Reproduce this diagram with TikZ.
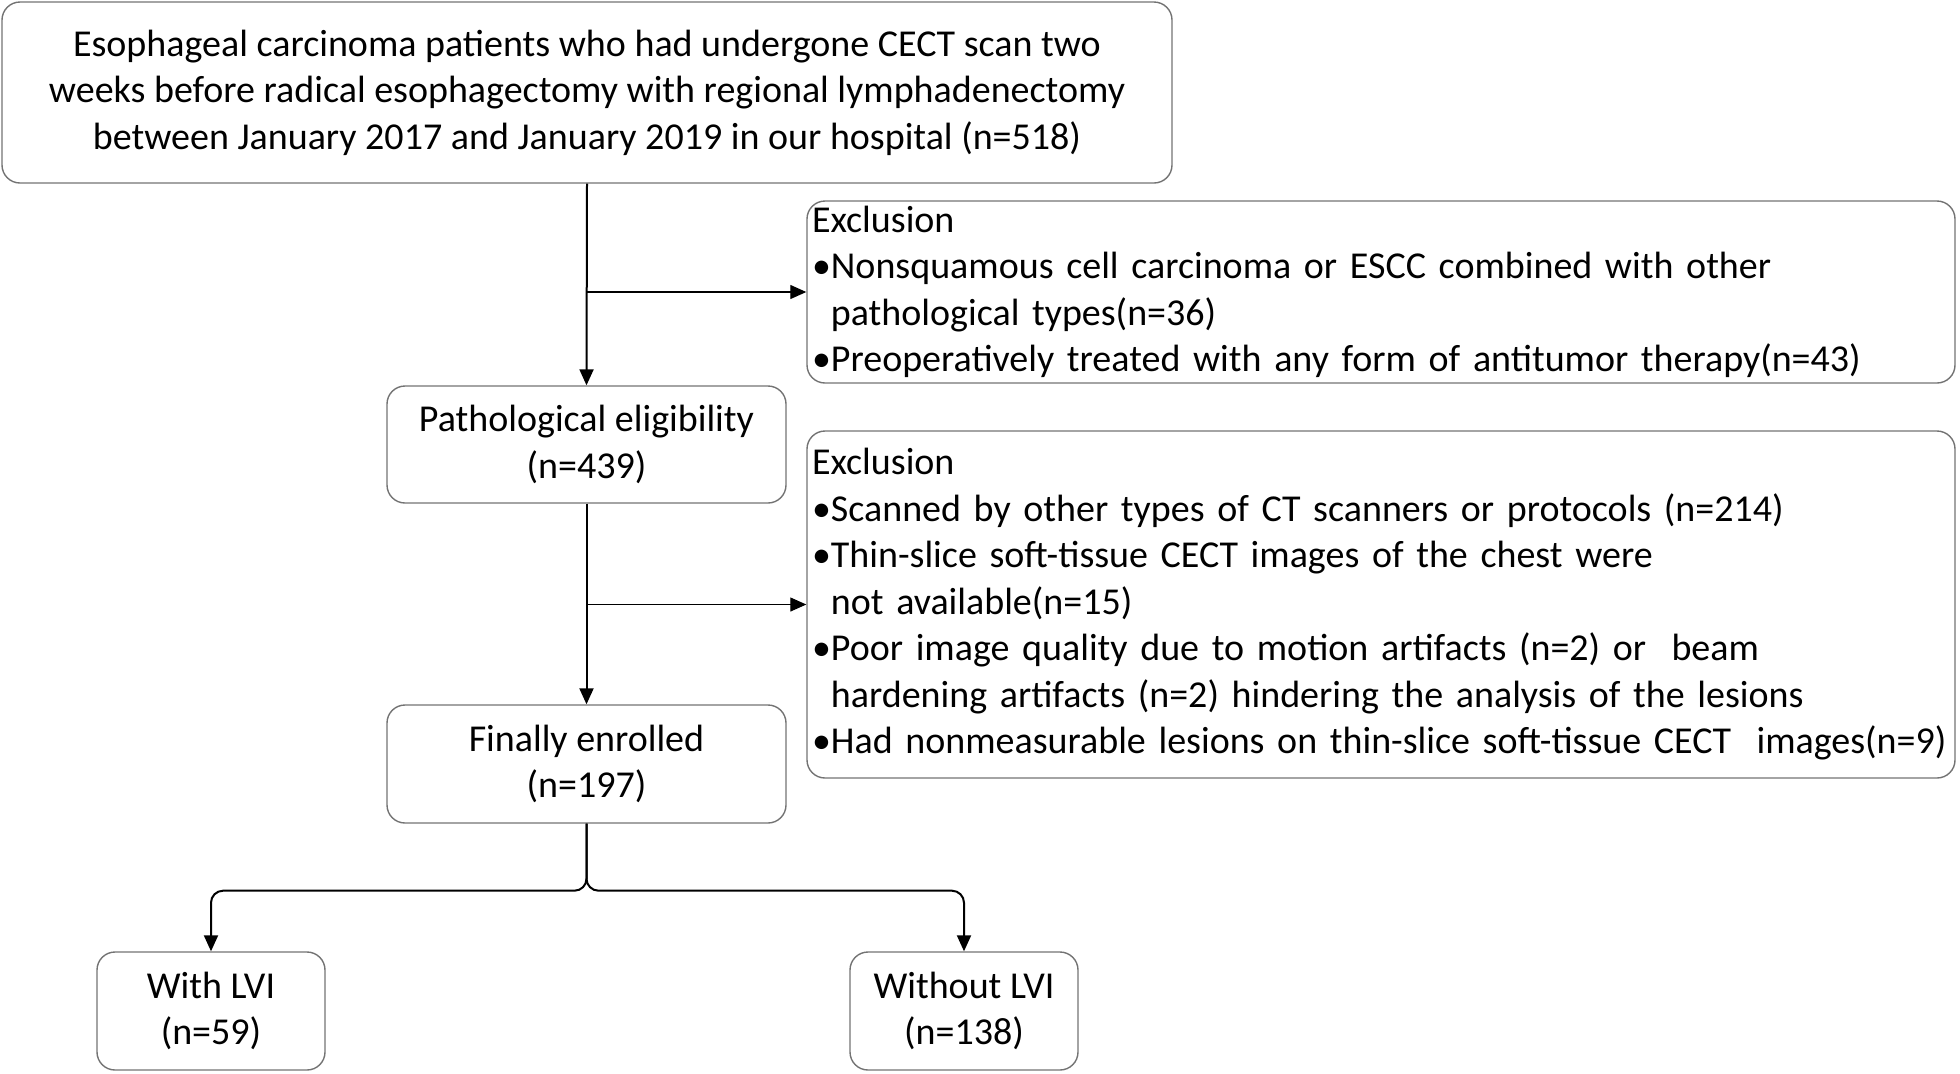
\documentclass[tikz,border=0pt]{standalone}
\usepackage{fontspec}
\setmainfont{Carlito}
\usetikzlibrary{arrows.meta}
\tikzstyle{boxnode} = [draw=black!55, line width=0.7pt, rectangle, rounded corners=9pt, align=center, inner sep=0pt, font=\fontsize{19pt}{23.25pt}\selectfont]
\tikzstyle{exclnode} = [boxnode, align=left, inner xsep=2.5pt, text width=569pt, minimum width=574pt]
\tikzstyle{mainline} = [line width=1pt, -{Triangle[length=8pt,width=7pt]}]
\tikzstyle{sideline} = [line width=0.6pt, -{Triangle[length=8pt,width=7pt]}]
\newcommand{\bul}{\textbullet}
\newcommand{\ind}{\hphantom{\textbullet}}

\begin{document}
\begin{tikzpicture}[x=0.5pt, y=-0.5pt]
  \useasboundingbox (0,0) rectangle (1960,1073);
  \node[boxnode, minimum width=585pt, minimum height=90.5pt] (start) at (587,92.5)
    {Esophageal carcinoma patients who had undergone CECT scan two\\
     weeks before radical esophagectomy with regional lymphadenectomy\\
     between January 2017 and January 2019 in our hospital (n=518)};
  \node[exclnode, minimum height=91pt] (excl1) at (1381,292)
    {Exclusion\\
     \bul Nonsquamous cell carcinoma or ESCC combined with other\\
     \ind pathological types(n=36)\\
     \bul Preoperatively treated with any form of antitumor therapy(n=43)};
  \node[boxnode, minimum width=199.5pt, minimum height=58.5pt] (patho) at (586.5,444.5)
    {Pathological eligibility\\(n=439)};
  \node[exclnode, minimum height=173.5pt] (excl2) at (1381,604.5)
    {Exclusion\\
     \bul Scanned by other types of CT scanners or protocols (n=214)\\
     \bul Thin-slice soft-tissue CECT images of the chest were\\
     \ind not available(n=15)\\
     \bul Poor image quality due to motion artifacts (n=2) or~ beam\\
     \ind hardening artifacts (n=2) hindering the analysis of the lesions\\
     \bul Had nonmeasurable lesions on thin-slice soft-tissue CECT~ images(n=9)};
  \node[boxnode, minimum width=199.5pt, minimum height=59pt] (enrolled) at (586.5,764)
    {Finally enrolled\\(n=197)};
  \node[boxnode, minimum width=114pt, minimum height=59pt] (withlvi) at (211,1011)
    {With LVI\\(n=59)};
  \node[boxnode, minimum width=114pt, minimum height=59pt] (withoutlvi) at (964,1011)
    {Without LVI\\(n=138)};

  \draw[mainline] (start.south) -- (patho.north);
  \draw[sideline] (excl1.west -| start.south) -- (excl1.west);
  \draw[mainline] (patho.south) -- (enrolled.north);
  \draw[sideline] (excl2.west -| patho.south) -- (excl2.west);
  \draw[mainline, rounded corners=6pt] (enrolled.south) -- ++(0,67) -| (withlvi.north);
  \draw[mainline, rounded corners=6pt] (enrolled.south) -- ++(0,67) -| (withoutlvi.north);
\end{tikzpicture}
\end{document}
